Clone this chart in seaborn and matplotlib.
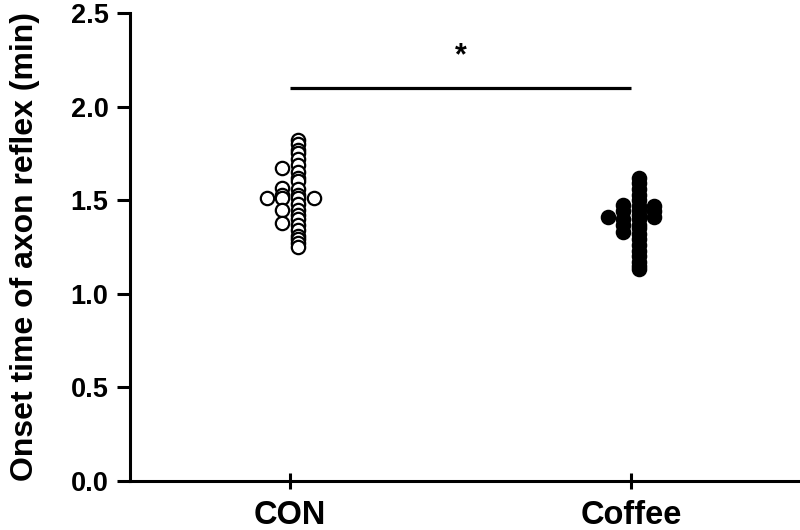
import matplotlib
matplotlib.use("Agg")
import matplotlib.pyplot as plt
from matplotlib.transforms import ScaledTranslation
import seaborn as sns
import pandas as pd

# ---------------- data ----------------
groups = ["CON", "Coffee"]

# points grouped by the side-by-side slot they occupy (ties spread sideways)
con_slot1 = [1.51]
con_slot2 = [1.67, 1.565, 1.53, 1.51, 1.45, 1.38]
con_slot3 = [1.82, 1.80, 1.77, 1.75, 1.72, 1.69, 1.65, 1.62, 1.60, 1.56,
             1.53, 1.51, 1.48, 1.45, 1.42, 1.40, 1.37, 1.34, 1.31, 1.29,
             1.27, 1.25]
con_slot4 = [1.51]

coffee_slot1 = [1.41]
coffee_slot2 = [1.475, 1.44, 1.40, 1.37, 1.33]
coffee_slot3 = [1.62, 1.59, 1.56, 1.53, 1.50, 1.47, 1.45, 1.42, 1.40, 1.37,
                1.35, 1.32, 1.29, 1.26, 1.23, 1.20, 1.17, 1.15, 1.13]
coffee_slot4 = [1.47, 1.44, 1.41]

y_ticks = [0.0, 0.5, 1.0, 1.5, 2.0, 2.5]
y_label = "Onset time of axon reflex (min)"
sig_text = "*"
sig_level = 2.10

# ---------------- style ----------------
sns.set_style("ticks")
plt.rcParams["font.family"] = ["Liberation Sans", "DejaVu Sans"]
plt.rcParams["font.weight"] = "bold"

fig = plt.figure(figsize=(8, 5.3), dpi=100)
ax = fig.add_axes([0.1625, 0.0925, 0.835, 0.883])

slot_step_pt = 11.2  # sideways spacing between tied points (points)

series = [
    ("CON", [con_slot1, con_slot2, con_slot3, con_slot4], "white"),
    ("Coffee", [coffee_slot1, coffee_slot2, coffee_slot3, coffee_slot4], "black"),
]

for group, slots, face in series:
    for k, vals in enumerate(slots):
        df = pd.DataFrame({"group": [group] * len(vals), "value": vals})
        n_before = len(ax.collections)
        sns.stripplot(data=df, x="group", y="value", order=groups,
                      jitter=False, color=face, edgecolor="black",
                      linewidth=1.6, size=9.6, ax=ax, zorder=3)
        dx = (k - 1.5) * slot_step_pt / 72.0
        for coll in ax.collections[n_before:]:
            coll.set_offset_transform(
                ax.transData + ScaledTranslation(dx, 0, fig.dpi_scale_trans))

# significance bar
ax.plot([0, 1], [sig_level, sig_level], color="black", lw=2.3,
        solid_capstyle="butt")
ax.text(0.5, sig_level + 0.09, sig_text, ha="center", va="bottom",
        fontsize=22, fontweight="bold", color="black")

ax.set_xlim(-0.47, 1.49)
ax.set_ylim(0, 2.5)
ax.set_yticks(y_ticks)
ax.set_yticklabels([f"{t:.1f}" for t in y_ticks])
ax.set_xlabel("")
ax.set_ylabel(y_label, fontsize=23, fontweight="bold", labelpad=22,
              color="black")

for s in ["top", "right"]:
    ax.spines[s].set_visible(False)
for s in ["left", "bottom"]:
    ax.spines[s].set_linewidth(2.2)
    ax.spines[s].set_color("black")

ax.tick_params(axis="y", direction="out", length=9.5, width=2.2,
               labelsize=19.5, pad=6, colors="black")
ax.tick_params(axis="x", direction="inout", length=12, width=2.2,
               labelsize=23.5, pad=8, colors="black")
for lab in ax.get_xticklabels() + ax.get_yticklabels():
    lab.set_fontweight("bold")

fig.savefig("out.png", dpi=100)
